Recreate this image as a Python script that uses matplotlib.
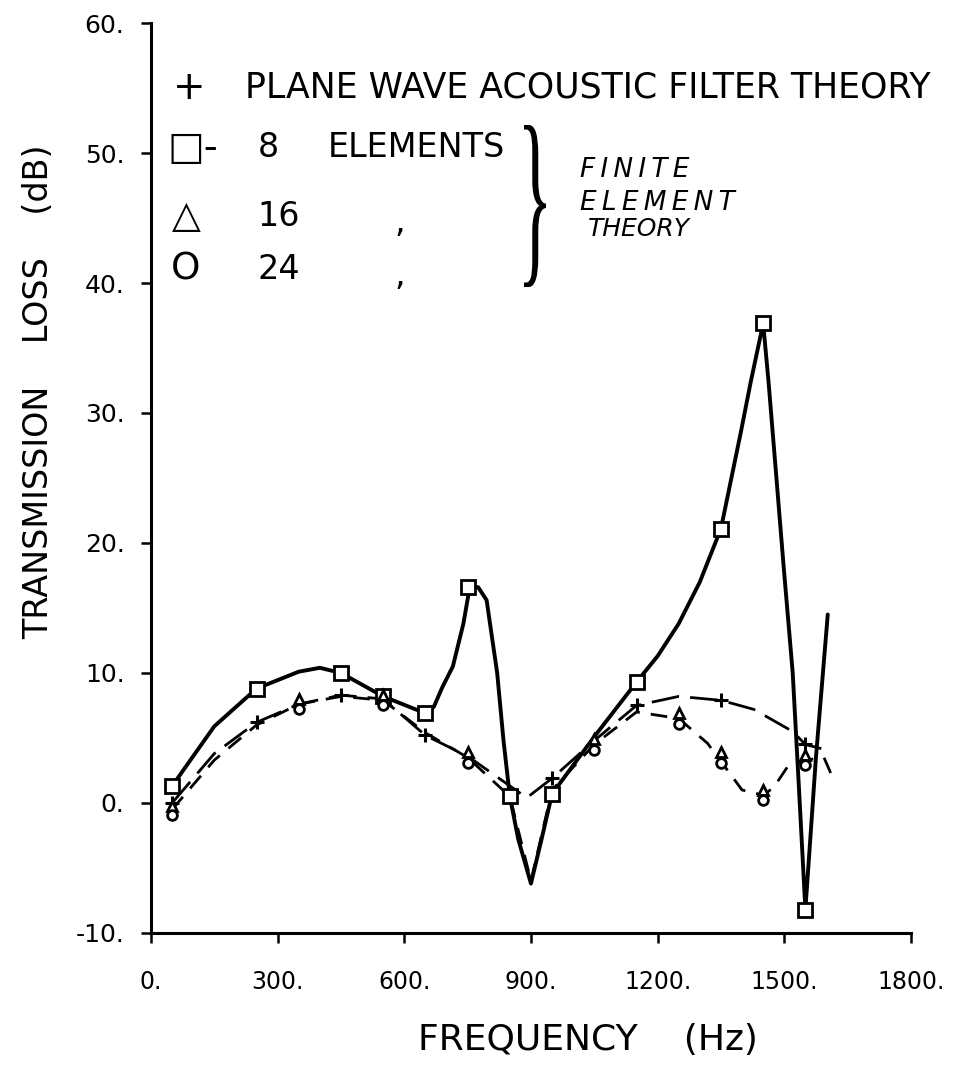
import matplotlib

matplotlib.use("Agg")
import matplotlib.pyplot as plt
from matplotlib.patches import PathPatch
from matplotlib.textpath import TextPath
from matplotlib.transforms import Affine2D

# 8 elements, solid curve read off the drawing, and its square markers
fe8_curve_freq = [50, 150, 250, 350, 400, 450, 550, 650, 670, 690, 715, 740, 755, 775, 795,
                  820, 835, 850, 870, 900, 925, 950, 1050, 1150, 1200, 1250, 1300, 1350, 1397,
                  1420, 1450, 1463, 1499, 1520, 1535, 1550, 1575, 1603]
fe8_curve_tl = [1.3, 5.9, 8.8, 10.1, 10.4, 10.0, 8.2, 6.9, 7.4, 8.9, 10.5, 13.8, 16.6, 16.6, 15.6,
                10.0, 4.8, 0.5, -2.8, -6.2, -2.8, 0.7, 5.1, 9.3, 11.3, 13.8, 17.0, 21.1, 28.5,
                32.3, 36.9, 32.3, 18.0, 10.0, 1.0, -8.2, 3.5, 14.5]
fe8_mark_freq = [50, 250, 450, 550, 650, 750, 850, 950, 1150, 1350, 1450, 1550]
fe8_mark_tl = [1.3, 8.8, 10.0, 8.2, 6.9, 16.6, 0.5, 0.7, 9.3, 21.1, 36.9, -8.2]

# plane wave acoustic filter theory
plane_curve_freq = [50, 150, 250, 350, 450, 550, 650, 750, 890, 950, 1050, 1150, 1250, 1350,
                    1428, 1520, 1550, 1610]
plane_curve_tl = [0.0, 3.8, 6.2, 7.6, 8.3, 8.0, 5.2, 3.6, 0.4, 1.9, 4.8, 7.5, 8.2, 7.9,
                  7.2, 5.5, 4.5, 4.0]
plane_mark_freq = [50, 250, 450, 650, 950, 1150, 1350, 1550]
plane_mark_tl = [0.0, 6.2, 8.3, 5.2, 1.9, 7.5, 7.9, 4.5]

# 16 and 24 elements, dashed curve and their markers
fe_curve_freq = [50, 150, 250, 350, 450, 550, 650, 750, 850, 900, 950, 1050, 1150, 1250,
                 1318, 1366, 1400, 1450, 1475, 1508, 1550, 1594, 1610]
fe_curve_tl = [-0.5, 3.3, 6.0, 7.6, 8.2, 7.9, 5.4, 3.5, 0.5, -6.0, 1.0, 4.5, 7.0, 6.5,
               4.6, 2.5, 1.0, 0.6, 1.2, 2.8, 3.3, 3.5, 2.3]
fe16_mark_freq = [50, 350, 550, 750, 1050, 1250, 1350, 1450, 1550]
fe16_mark_tl = [-0.2, 8.0, 8.3, 3.9, 4.9, 6.9, 3.9, 1.0, 3.7]
fe24_mark_freq = [50, 350, 550, 750, 1050, 1250, 1350, 1450, 1550]
fe24_mark_tl = [-0.9, 7.2, 7.5, 3.1, 4.1, 6.1, 3.1, 0.2, 2.9]

x_ticks = [0, 300, 600, 900, 1200, 1500, 1800]
y_ticks = [-10, 0, 10, 20, 30, 40, 50, 60]

fig = plt.figure(figsize=(9.61, 10.75), dpi=100)
ax = fig.add_axes([0.1571, 0.1321, 0.7908, 0.8465])

ax.plot(fe8_curve_freq, fe8_curve_tl, color="black", lw=2.8, solid_capstyle="round")
ax.plot(plane_curve_freq, plane_curve_tl, color="black", lw=2.0, dashes=(10, 4))
ax.plot(fe_curve_freq, fe_curve_tl, color="black", lw=2.0, dashes=(6, 4))

ax.plot(fe8_mark_freq, fe8_mark_tl, ls="none", marker="s", ms=10, mfc="white", mec="black", mew=2)
ax.plot(plane_mark_freq, plane_mark_tl, ls="none", marker="+", ms=10, mec="black", mew=2.2)
ax.plot(fe16_mark_freq, fe16_mark_tl, ls="none", marker="^", ms=7, mfc="white", mec="black", mew=2)
ax.plot(fe24_mark_freq, fe24_mark_tl, ls="none", marker="o", ms=7, mfc="white", mec="black", mew=2)

ax.set_xlim(0, 1800)
ax.set_ylim(-10, 60)
ax.set_xticks(x_ticks, labels=[f"{t}." for t in x_ticks])
ax.set_yticks(y_ticks, labels=[f"{t}." for t in y_ticks])
ax.spines[["top", "right"]].set_visible(False)
ax.spines[["left", "bottom"]].set_linewidth(2.2)
ax.tick_params(axis="both", direction="out", length=7, width=1.8)
ax.tick_params(axis="x", pad=20, labelsize=17)
ax.tick_params(axis="y", pad=12, labelsize=18)

fig.text(0.040, 0.636, "TRANSMISSION    LOSS    (dB)", rotation=90, ha="center", va="center",
         fontsize=24)
fig.text(0.612, 0.033, "FREQUENCY    (Hz)", ha="center", va="center", fontsize=26)

# hand written key inside the axes
key = dict(transform=ax.transAxes, va="center")
ax.text(0.050, 0.929, "+", ha="center", fontsize=28, **key)
ax.text(0.124, 0.929, "PLANE WAVE ACOUSTIC FILTER THEORY", ha="left", fontsize=25, **key)
ax.text(0.055, 0.863, "□-", ha="center", fontsize=28, **key)
ax.text(0.140, 0.863, "8", ha="left", fontsize=24, **key)
ax.text(0.232, 0.863, "ELEMENTS", ha="left", fontsize=24, **key)
ax.text(0.046, 0.787, "△", ha="center", fontsize=27, **key)
ax.text(0.140, 0.787, "16", ha="left", fontsize=24, **key)
ax.text(0.328, 0.781, ",", ha="center", fontsize=24, **key)
ax.text(0.046, 0.729, "O", ha="center", fontsize=27, **key)
ax.text(0.140, 0.729, "24", ha="left", fontsize=24, **key)
ax.text(0.328, 0.722, ",", ha="center", fontsize=24, **key)
ax.text(0.565, 0.838, "F\u2009I\u2009N\u2009I\u2009T\u2009E", ha="left", va="center",
        transform=ax.transAxes, fontsize=19, style="italic")
ax.text(0.565, 0.802, "E\u2009L\u2009E\u2009M\u2009E\u2009N\u2009T", ha="left", va="center",
        transform=ax.transAxes, fontsize=19, style="italic")
ax.text(0.575, 0.774, "THEORY", ha="left", va="center", transform=ax.transAxes,
        fontsize=18, style="italic")

# tall thin brace grouping the finite element rows, stretched to fit its box in pixels
brace = TextPath((0, 0), "}", size=100, prop={"family": "Liberation Serif"})
ext = brace.get_extents()
box_x0, box_x1, box_y0, box_y1 = 524, 546, 788, 950
to_box = (Affine2D()
          .translate(-ext.x0, -ext.y0)
          .scale((box_x1 - box_x0) / ext.width, (box_y1 - box_y0) / ext.height)
          .translate(box_x0, box_y0))
fig.add_artist(PathPatch(to_box.transform_path(brace), facecolor="black", edgecolor="none",
                         transform=None))

fig.savefig("out.png", dpi=100)
plt.close(fig)
